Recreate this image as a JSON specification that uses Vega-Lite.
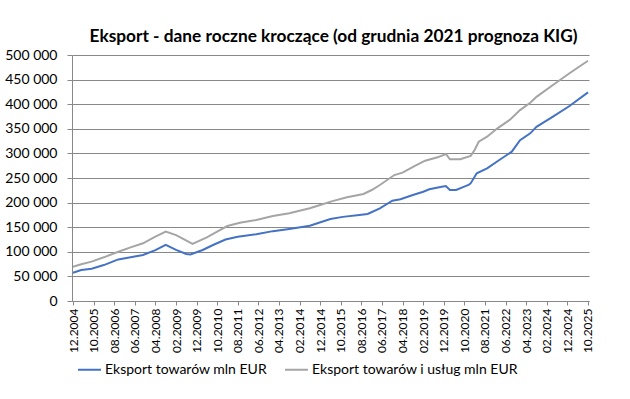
{
  "$schema": "https://vega.github.io/schema/vega-lite/v6.json",
  "width": 517,
  "height": 246,
  "autosize": {"type": "none"},
  "padding": {"left": 72, "top": 55, "right": 41, "bottom": 98},
  "background": "white",
  "title": {"text": "Eksport - dane roczne kroczące (od grudnia 2021 prognoza KIG)", "fontSize": 17.3, "fontWeight": "bold", "font": "Lato", "color": "#000000", "anchor": "middle", "offset": 3, "dx": 3},
  "config": {
    "locale": {"number": {"decimal": ",", "thousands": " ", "grouping": [3], "currency": ["", ""]}},
    "view": {"stroke": null},
    "font": "Lato"
  },
  "data": {"values": [
    {"d": "2004-12-01", "s": "Eksport towarów mln EUR", "v": 57500},
    {"d": "2005-04-01", "s": "Eksport towarów mln EUR", "v": 63000},
    {"d": "2005-09-01", "s": "Eksport towarów mln EUR", "v": 65700},
    {"d": "2006-03-01", "s": "Eksport towarów mln EUR", "v": 73000},
    {"d": "2006-10-01", "s": "Eksport towarów mln EUR", "v": 84500},
    {"d": "2007-04-01", "s": "Eksport towarów mln EUR", "v": 88800},
    {"d": "2007-10-01", "s": "Eksport towarów mln EUR", "v": 93500},
    {"d": "2008-04-01", "s": "Eksport towarów mln EUR", "v": 103500},
    {"d": "2008-09-01", "s": "Eksport towarów mln EUR", "v": 114000},
    {"d": "2009-02-01", "s": "Eksport towarów mln EUR", "v": 104000},
    {"d": "2009-07-01", "s": "Eksport towarów mln EUR", "v": 95500},
    {"d": "2009-09-01", "s": "Eksport towarów mln EUR", "v": 94500},
    {"d": "2010-03-01", "s": "Eksport towarów mln EUR", "v": 103700},
    {"d": "2010-08-01", "s": "Eksport towarów mln EUR", "v": 113800},
    {"d": "2011-02-01", "s": "Eksport towarów mln EUR", "v": 125000},
    {"d": "2011-08-01", "s": "Eksport towarów mln EUR", "v": 130500},
    {"d": "2012-05-01", "s": "Eksport towarów mln EUR", "v": 135600},
    {"d": "2013-01-01", "s": "Eksport towarów mln EUR", "v": 142000},
    {"d": "2013-09-01", "s": "Eksport towarów mln EUR", "v": 146500},
    {"d": "2014-07-01", "s": "Eksport towarów mln EUR", "v": 153000},
    {"d": "2015-05-01", "s": "Eksport towarów mln EUR", "v": 166700},
    {"d": "2015-11-01", "s": "Eksport towarów mln EUR", "v": 171000},
    {"d": "2016-07-01", "s": "Eksport towarów mln EUR", "v": 174800},
    {"d": "2016-11-01", "s": "Eksport towarów mln EUR", "v": 177000},
    {"d": "2017-05-01", "s": "Eksport towarów mln EUR", "v": 188400},
    {"d": "2017-11-01", "s": "Eksport towarów mln EUR", "v": 203900},
    {"d": "2018-03-01", "s": "Eksport towarów mln EUR", "v": 206700},
    {"d": "2018-09-01", "s": "Eksport towarów mln EUR", "v": 215400},
    {"d": "2019-02-01", "s": "Eksport towarów mln EUR", "v": 222000},
    {"d": "2019-05-01", "s": "Eksport towarów mln EUR", "v": 227000},
    {"d": "2019-11-01", "s": "Eksport towarów mln EUR", "v": 232300},
    {"d": "2020-01-01", "s": "Eksport towarów mln EUR", "v": 233700},
    {"d": "2020-03-01", "s": "Eksport towarów mln EUR", "v": 225600},
    {"d": "2020-06-01", "s": "Eksport towarów mln EUR", "v": 225600},
    {"d": "2020-09-01", "s": "Eksport towarów mln EUR", "v": 231000},
    {"d": "2020-12-01", "s": "Eksport towarów mln EUR", "v": 235800},
    {"d": "2021-01-01", "s": "Eksport towarów mln EUR", "v": 239000},
    {"d": "2021-04-01", "s": "Eksport towarów mln EUR", "v": 259600},
    {"d": "2021-09-01", "s": "Eksport towarów mln EUR", "v": 269700},
    {"d": "2022-03-01", "s": "Eksport towarów mln EUR", "v": 286600},
    {"d": "2022-09-01", "s": "Eksport towarów mln EUR", "v": 303500},
    {"d": "2023-01-01", "s": "Eksport towarów mln EUR", "v": 327000},
    {"d": "2023-06-01", "s": "Eksport towarów mln EUR", "v": 340800},
    {"d": "2023-09-01", "s": "Eksport towarów mln EUR", "v": 354000},
    {"d": "2024-05-01", "s": "Eksport towarów mln EUR", "v": 374600},
    {"d": "2025-01-01", "s": "Eksport towarów mln EUR", "v": 396300},
    {"d": "2025-10-01", "s": "Eksport towarów mln EUR", "v": 424000},
    {"d": "2004-12-01", "s": "Eksport towarów i usług mln EUR", "v": 69700},
    {"d": "2005-04-01", "s": "Eksport towarów i usług mln EUR", "v": 74600},
    {"d": "2005-09-01", "s": "Eksport towarów i usług mln EUR", "v": 80000},
    {"d": "2006-03-01", "s": "Eksport towarów i usług mln EUR", "v": 88800},
    {"d": "2006-10-01", "s": "Eksport towarów i usług mln EUR", "v": 100000},
    {"d": "2007-04-01", "s": "Eksport towarów i usług mln EUR", "v": 109000},
    {"d": "2007-10-01", "s": "Eksport towarów i usług mln EUR", "v": 117300},
    {"d": "2008-04-01", "s": "Eksport towarów i usług mln EUR", "v": 130700},
    {"d": "2008-09-01", "s": "Eksport towarów i usług mln EUR", "v": 141000},
    {"d": "2009-02-01", "s": "Eksport towarów i usług mln EUR", "v": 134000},
    {"d": "2009-08-01", "s": "Eksport towarów i usług mln EUR", "v": 120500},
    {"d": "2009-10-01", "s": "Eksport towarów i usług mln EUR", "v": 116000},
    {"d": "2010-05-01", "s": "Eksport towarów i usług mln EUR", "v": 129500},
    {"d": "2010-10-01", "s": "Eksport towarów i usług mln EUR", "v": 141000},
    {"d": "2011-03-01", "s": "Eksport towarów i usług mln EUR", "v": 152400},
    {"d": "2011-09-01", "s": "Eksport towarów i usług mln EUR", "v": 159000},
    {"d": "2012-05-01", "s": "Eksport towarów i usług mln EUR", "v": 164600},
    {"d": "2013-01-01", "s": "Eksport towarów i usług mln EUR", "v": 172800},
    {"d": "2013-09-01", "s": "Eksport towarów i usług mln EUR", "v": 178200},
    {"d": "2014-07-01", "s": "Eksport towarów i usług mln EUR", "v": 188400},
    {"d": "2014-12-01", "s": "Eksport towarów i usług mln EUR", "v": 195000},
    {"d": "2015-06-01", "s": "Eksport towarów i usług mln EUR", "v": 203000},
    {"d": "2016-01-01", "s": "Eksport towarów i usług mln EUR", "v": 210700},
    {"d": "2016-09-01", "s": "Eksport towarów i usług mln EUR", "v": 217500},
    {"d": "2017-01-01", "s": "Eksport towarów i usług mln EUR", "v": 225600},
    {"d": "2017-05-01", "s": "Eksport towarów i usług mln EUR", "v": 235800},
    {"d": "2017-12-01", "s": "Eksport towarów i usług mln EUR", "v": 256000},
    {"d": "2018-04-01", "s": "Eksport towarów i usług mln EUR", "v": 260800},
    {"d": "2018-10-01", "s": "Eksport towarów i usług mln EUR", "v": 274400},
    {"d": "2019-03-01", "s": "Eksport towarów i usług mln EUR", "v": 285200},
    {"d": "2019-09-01", "s": "Eksport towarów i usług mln EUR", "v": 292000},
    {"d": "2020-01-01", "s": "Eksport towarów i usług mln EUR", "v": 298800},
    {"d": "2020-03-01", "s": "Eksport towarów i usług mln EUR", "v": 288000},
    {"d": "2020-08-01", "s": "Eksport towarów i usług mln EUR", "v": 288000},
    {"d": "2021-01-01", "s": "Eksport towarów i usług mln EUR", "v": 295000},
    {"d": "2021-03-01", "s": "Eksport towarów i usług mln EUR", "v": 307000},
    {"d": "2021-05-01", "s": "Eksport towarów i usług mln EUR", "v": 323800},
    {"d": "2021-09-01", "s": "Eksport towarów i usług mln EUR", "v": 334000},
    {"d": "2022-02-01", "s": "Eksport towarów i usług mln EUR", "v": 351000},
    {"d": "2022-08-01", "s": "Eksport towarów i usług mln EUR", "v": 368000},
    {"d": "2023-01-01", "s": "Eksport towarów i usług mln EUR", "v": 388000},
    {"d": "2023-06-01", "s": "Eksport towarów i usług mln EUR", "v": 403000},
    {"d": "2023-09-01", "s": "Eksport towarów i usług mln EUR", "v": 415000},
    {"d": "2024-05-01", "s": "Eksport towarów i usług mln EUR", "v": 439000},
    {"d": "2025-01-01", "s": "Eksport towarów i usług mln EUR", "v": 462800},
    {"d": "2025-10-01", "s": "Eksport towarów i usług mln EUR", "v": 488400}
  ]},
  "mark": {"type": "line", "strokeWidth": 2},
  "encoding": {
    "x": {
      "field": "d",
      "type": "temporal",
      "scale": {"type": "utc", "domain": [{"year": 2004, "month": 11, "date": 16, "utc": true}, {"year": 2025, "month": 10, "date": 16, "utc": true}]},
      "axis": {
        "title": null,
        "grid": false,
        "values": [
          {"year": 2004, "month": 12, "date": 1, "utc": true},
          {"year": 2005, "month": 10, "date": 1, "utc": true},
          {"year": 2006, "month": 8, "date": 1, "utc": true},
          {"year": 2007, "month": 6, "date": 1, "utc": true},
          {"year": 2008, "month": 4, "date": 1, "utc": true},
          {"year": 2009, "month": 2, "date": 1, "utc": true},
          {"year": 2009, "month": 12, "date": 1, "utc": true},
          {"year": 2010, "month": 10, "date": 1, "utc": true},
          {"year": 2011, "month": 8, "date": 1, "utc": true},
          {"year": 2012, "month": 6, "date": 1, "utc": true},
          {"year": 2013, "month": 4, "date": 1, "utc": true},
          {"year": 2014, "month": 2, "date": 1, "utc": true},
          {"year": 2014, "month": 12, "date": 1, "utc": true},
          {"year": 2015, "month": 10, "date": 1, "utc": true},
          {"year": 2016, "month": 8, "date": 1, "utc": true},
          {"year": 2017, "month": 6, "date": 1, "utc": true},
          {"year": 2018, "month": 4, "date": 1, "utc": true},
          {"year": 2019, "month": 2, "date": 1, "utc": true},
          {"year": 2019, "month": 12, "date": 1, "utc": true},
          {"year": 2020, "month": 10, "date": 1, "utc": true},
          {"year": 2021, "month": 8, "date": 1, "utc": true},
          {"year": 2022, "month": 6, "date": 1, "utc": true},
          {"year": 2023, "month": 4, "date": 1, "utc": true},
          {"year": 2024, "month": 2, "date": 1, "utc": true},
          {"year": 2024, "month": 12, "date": 1, "utc": true},
          {"year": 2025, "month": 10, "date": 1, "utc": true}
        ],
        "labelExpr": "utcFormat(datum.value, '%m.%Y')",
        "labelAngle": 270,
        "labelAlign": "right",
        "labelBaseline": "middle",
        "labelFontSize": 12,
        "labelColor": "#000000",
        "labelPadding": 3,
        "labelOverlap": false,
        "labelFlush": false,
        "tickSize": 4,
        "tickColor": "#888888",
        "domainColor": "#888888",
        "domainWidth": 1
      }
    },
    "y": {
      "field": "v",
      "type": "quantitative",
      "scale": {"domain": [0, 500000], "nice": false},
      "axis": {
        "title": null,
        "values": [0, 50000, 100000, 150000, 200000, 250000, 300000, 350000, 400000, 450000, 500000],
        "format": ",d",
        "labelFontSize": 14,
        "labelColor": "#000000",
        "labelPadding": 10,
        "tickSize": 5,
        "tickColor": "#888888",
        "domainColor": "#888888",
        "gridColor": "#888888",
        "gridWidth": 1
      }
    },
    "color": {
      "field": "s",
      "type": "nominal",
      "scale": {"domain": ["Eksport towarów mln EUR", "Eksport towarów i usług mln EUR"], "range": ["#4472C4", "#A5A5A5"]},
      "legend": {
        "title": null,
        "orient": "none",
        "legendX": 5,
        "legendY": 302,
        "direction": "horizontal",
        "symbolType": "stroke",
        "symbolSize": 529,
        "symbolStrokeWidth": 2,
        "labelFontSize": 14,
        "labelLimit": 0,
        "labelColor": "#000000",
        "labelOffset": 3,
        "columnPadding": 14
      }
    }
  }
}
